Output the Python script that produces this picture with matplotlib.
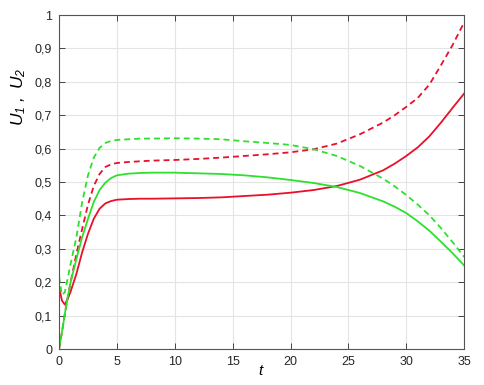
import matplotlib
matplotlib.use("Agg")
import matplotlib.pyplot as plt

# ---- data ----
t = [0, 0.25, 0.5, 0.75, 1, 1.5, 2, 2.5, 3, 3.5, 4, 4.5, 5, 6, 7, 8, 10, 12, 14,
     16, 18, 20, 22, 24, 26, 28, 29, 30, 31, 32, 33, 34, 35]

u1_solid = [0.185, 0.145, 0.133, 0.15, 0.172, 0.225, 0.29, 0.345, 0.39, 0.42,
            0.436, 0.443, 0.447, 0.449, 0.45, 0.45, 0.451, 0.452, 0.454, 0.458,
            0.462, 0.468, 0.476, 0.488, 0.507, 0.535, 0.555, 0.578, 0.604,
            0.637, 0.678, 0.722, 0.765]
u1_dashed = [0, 0.05, 0.105, 0.155, 0.2, 0.285, 0.36, 0.432, 0.488, 0.524, 0.545,
             0.553, 0.557, 0.56, 0.562, 0.564, 0.566, 0.569, 0.573, 0.578, 0.583,
             0.589, 0.598, 0.615, 0.643, 0.678, 0.7, 0.725, 0.752, 0.792, 0.85,
             0.91, 0.978]
u2_solid = [0, 0.05, 0.105, 0.155, 0.2, 0.27, 0.335, 0.39, 0.44, 0.476, 0.498,
            0.512, 0.52, 0.525, 0.527, 0.528, 0.528, 0.526, 0.524, 0.52, 0.514,
            0.506, 0.497, 0.485, 0.467, 0.442, 0.426, 0.407, 0.382, 0.354, 0.321,
            0.287, 0.25]
u2_dashed = [0.217, 0.162, 0.17, 0.212, 0.255, 0.335, 0.44, 0.52, 0.573, 0.602,
             0.617, 0.623, 0.626, 0.628, 0.63, 0.63, 0.631, 0.63, 0.628, 0.622,
             0.617, 0.611, 0.598, 0.578, 0.548, 0.51, 0.487, 0.461, 0.432, 0.4,
             0.362, 0.32, 0.276]

x_ticks = [0, 5, 10, 15, 20, 25, 30, 35]
y_ticks = [0, 0.1, 0.2, 0.3, 0.4, 0.5, 0.6, 0.7, 0.8, 0.9, 1]
y_labels = ['0', '0,1', '0,2', '0,3', '0,4', '0,5', '0,6', '0,7', '0,8', '0,9', '1']

red = '#e8102a'
green = '#2ee02e'

plt.rcParams['font.family'] = ['Liberation Sans', 'DejaVu Sans']
plt.rcParams['mathtext.fontset'] = 'custom'
plt.rcParams['mathtext.it'] = 'Liberation Sans:italic'
plt.rcParams['mathtext.rm'] = 'Liberation Sans:italic'

fig = plt.figure(figsize=(4.84, 3.85), dpi=100)
ax = fig.add_axes([0.122, 0.0935, 0.837, 0.8675])

lw = 1.3
ax.plot(t, u1_solid, color=red, lw=lw)
ax.plot(t, u1_dashed, color=red, lw=lw, linestyle='--', dashes=(3.3, 2.2))
ax.plot(t, u2_solid, color=green, lw=lw)
ax.plot(t, u2_dashed, color=green, lw=lw, linestyle='--', dashes=(3.3, 2.2))

ax.set_xlim(0, 35)
ax.set_ylim(0, 1)
ax.set_xticks(x_ticks)
ax.set_yticks(y_ticks)
ax.set_yticklabels(y_labels)
ax.grid(True, color='#e4e4e4', lw=0.8)
ax.set_axisbelow(True)

ax.tick_params(direction='in', length=4, width=0.7, colors='#444444',
               labelcolor='#262626', labelsize=9, top=True, right=True, pad=5)
for s in ax.spines.values():
    s.set_color('#555555')
    s.set_linewidth(0.8)

ax.set_xlabel('$t$', fontsize=11, labelpad=-3)
ax.set_ylabel(r'$U_1\ ,\ U_2$', fontsize=12.5)
ax.yaxis.set_label_coords(-0.077, 0.755)

fig.savefig('out.png', dpi=100)
